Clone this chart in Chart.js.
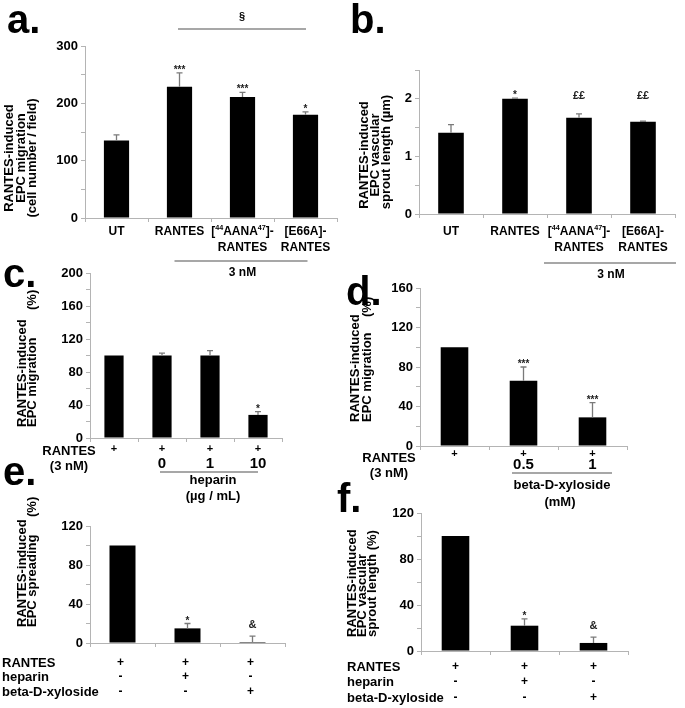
<!DOCTYPE html>
<html>
<head>
<meta charset="utf-8">
<script src="https://cdn.jsdelivr.net/npm/chart.js@4.4.1/dist/chart.umd.min.js"></script>
<style>
  html, body { margin: 0; padding: 0; background: #fff; }
  #page { position: relative; width: 685px; height: 708px; overflow: hidden; }
  #page canvas { position: absolute; left: 0; top: 0; }
</style>
</head>
<body>
<div id="page"></div>
<script>
// a. EPC migration (cell number / field)
const aCategories = ['UT', 'RANTES', '[^44^AANA^47^]-', '[E66A]-'];
const aSecondLine = ['', '', 'RANTES', 'RANTES'];
const aValues = [135, 229, 211, 180];
const aErrors = [10, 24, 8, 5];
const aStars = ['', '***', '***', '*'];

// b. EPC vascular sprout length (µm)
const bCategories = ['UT', 'RANTES', '[^44^AANA^47^]-', '[E66A]-'];
const bSecondLine = ['', '', 'RANTES', 'RANTES'];
const bValues = [1.41, 2.0, 1.67, 1.6];
const bErrors = [0.14, 0.01, 0.07, 0.01];
const bStars = ['', '*', '££', '££'];

// c. heparin dose (µg / mL)
const cCategories = ['0', '0', '1', '10'];
const cRantes = ['+', '+', '+', '+'];
const cDoses = ['', '0', '1', '10'];
const cValues = [100, 100, 100, 28];
const cErrors = [0, 3, 6, 4];
const cStars = ['', '', '', '*'];

// d. beta-D-xyloside dose (mM)
const dCategories = ['0', '0.5', '1'];
const dRantes = ['+', '+', '+'];
const dDoses = ['', '0.5', '1'];
const dValues = [100, 66, 29];
const dErrors = [0, 14, 15];
const dStars = ['', '***', '***'];

// e. / f. treatment rows
const rowLabels = ['RANTES', 'heparin', 'beta-D-xyloside'];
const rowMarks = [['+', '+', '+'], ['-', '+', '-'], ['-', '-', '+']];
const eValues = [100, 15, 1];
const eErrors = [0, 5, 6];
const eStars = ['', '*', '&'];
const fValues = [100, 22, 7];
const fErrors = [0, 6, 5];
const fStars = ['', '*', '&'];

const FONT = '"Liberation Sans", Arial, Helvetica, sans-serif';
const AXIS = '#b4b4b4';
const W = 685, H = 708;

function isMajor(v, major) {
    return Math.abs(v / major - Math.round(v / major)) < 1e-6;
}

function txt(ctx, s, x, y, size, align) {
    ctx.font = 'bold ' + size + 'px ' + FONT;
    ctx.textAlign = align || 'center';
    ctx.textBaseline = 'middle';
    ctx.fillText(s, x, y);
}

// texte avec exposants marqués par ^...^
function rich(ctx, s, x, y, size) {
    const parts = s.split('^');
    let total = 0;
    parts.forEach((p, i) => {
        ctx.font = 'bold ' + (i % 2 ? size * 0.6 : size) + 'px ' + FONT;
        total += ctx.measureText(p).width;
    });
    let cx = x - total / 2;
    ctx.textAlign = 'left';
    ctx.textBaseline = 'middle';
    parts.forEach((p, i) => {
        const sz = i % 2 ? size * 0.6 : size;
        ctx.font = 'bold ' + sz + 'px ' + FONT;
        ctx.fillText(p, cx, i % 2 ? y - size * 0.3 : y);
        cx += ctx.measureText(p).width;
    });
}

function vtxt(ctx, s, x, y, size, align) {
    ctx.save();
    ctx.translate(x, y);
    ctx.rotate(-Math.PI / 2);
    txt(ctx, s, 0, 0, size, align);
    ctx.restore();
}

function hline(ctx, x1, x2, y) {
    ctx.save();
    ctx.strokeStyle = '#8a8a8a';
    ctx.lineWidth = 1.5;
    ctx.beginPath();
    ctx.moveTo(x1, y);
    ctx.lineTo(x2, y);
    ctx.stroke();
    ctx.restore();
}

function letter(ctx, s, x, y) {
    ctx.font = 'bold 40px ' + FONT;
    ctx.textAlign = 'left';
    ctx.textBaseline = 'alphabetic';
    ctx.fillText(s, x, y);
}

function drawErrors(chart, p) {
    const ctx = chart.ctx, xs = chart.scales.x, ys = chart.scales.y;
    ctx.save();
    p.values.forEach((v, i) => {
        const e = p.errors[i];
        const cx = xs.getPixelForValue(i);
        const y0 = ys.getPixelForValue(v), y1 = ys.getPixelForValue(v + e);
        if (e > 0) {
            ctx.strokeStyle = '#7a7a7a';
            ctx.lineWidth = 1.3;
            ctx.beginPath();
            ctx.moveTo(cx, y0);
            ctx.lineTo(cx, y1);
            ctx.moveTo(cx - 3, y1);
            ctx.lineTo(cx + 3, y1);
            ctx.stroke();
        }
        const s = p.stars[i];
        if (!s) return;
        let top = y1;
        if (p.starLevel !== undefined) top = Math.min(top, ys.getPixelForValue(p.starLevel));
        ctx.fillStyle = '#222';
        ctx.textAlign = 'center';
        ctx.textBaseline = 'alphabetic';
        if (s.indexOf('*') >= 0) {
            ctx.font = 'bold 10px ' + FONT;
            ctx.fillText(s, cx, top);
        } else {
            ctx.font = 'bold 11px ' + FONT;
            ctx.fillText(s, cx, top - 8);
        }
    });
    ctx.restore();
}

function makePanel(p) {
    const canvas = document.createElement('canvas');
    canvas.width = W;
    canvas.height = H;
    document.getElementById('page').appendChild(canvas);
    const extra = {
        id: 'extra',
        afterDatasetsDraw(chart) { drawErrors(chart, p); },
        afterDraw(chart) {
            const ctx = chart.ctx;
            ctx.save();
            ctx.fillStyle = '#000';
            p.draw(ctx, i => chart.scales.x.getPixelForValue(i));
            ctx.restore();
        }
    };
    return new Chart(canvas, {
        type: 'bar',
        data: {
            labels: p.categories,
            datasets: [{
                data: p.values,
                backgroundColor: '#000',
                borderWidth: 0,
                barPercentage: 0.4,
                categoryPercentage: 1
            }]
        },
        options: {
            responsive: false,
            animation: false,
            events: [],
            layout: { padding: { left: p.area[0] - 40, right: W - p.area[1], top: p.area[2], bottom: H - p.area[3] - 6 } },
            plugins: { legend: { display: false }, tooltip: { enabled: false } },
            scales: {
                x: {
                    offset: true,
                    grid: { offset: true, drawOnChartArea: false, tickLength: 4, color: AXIS },
                    border: { color: AXIS },
                    ticks: { display: false },
                    afterFit(s) { s.height = 6; }
                },
                y: {
                    min: 0,
                    max: p.max,
                    ticks: {
                        stepSize: p.step,
                        autoSkip: false,
                        padding: 3,
                        color: '#000',
                        font: { family: FONT, size: 13, weight: 'bold' },
                        callback: v => isMajor(v, p.major) ? v : ''
                    },
                    grid: { drawOnChartArea: false, tickLength: 4, color: AXIS },
                    border: { color: AXIS },
                    afterFit(s) { s.width = 40; }
                }
            }
        },
        plugins: [extra]
    });
}

// a.
makePanel({
    categories: aCategories, values: aValues, errors: aErrors, stars: aStars,
    area: [85, 337, 46, 218], max: 300, step: 50, major: 100,
    draw(ctx, px) {
        letter(ctx, 'a.', 7, 33);
        vtxt(ctx, 'RANTES-induced', 9, 158, 13);
        vtxt(ctx, 'EPC migration', 21, 158, 13);
        vtxt(ctx, '(cell number / field)', 32, 158, 13);
        aCategories.forEach((c, i) => rich(ctx, c, px(i), 232, 12));
        aSecondLine.forEach((c, i) => { if (c) txt(ctx, c, px(i), 248, 12); });
        hline(ctx, px(1) - 5, px(3) + 2, 261);
        txt(ctx, '3 nM', px(2), 273, 12);
        hline(ctx, 178, 306, 29);
        txt(ctx, '§', 242, 17, 11);
    }
});

// b.
makePanel({
    categories: bCategories, values: bValues, errors: bErrors, stars: bStars, starLevel: 1.85,
    area: [419, 675, 70, 214], max: 2.5, step: 0.5, major: 1,
    draw(ctx, px) {
        letter(ctx, 'b.', 350, 33);
        vtxt(ctx, 'RANTES-induced', 364, 155, 13);
        vtxt(ctx, 'EPC vascular', 375, 155, 13);
        vtxt(ctx, 'sprout length (µm)', 386, 152, 13);
        bCategories.forEach((c, i) => rich(ctx, c, px(i), 232, 12));
        bSecondLine.forEach((c, i) => { if (c) txt(ctx, c, px(i), 248, 12); });
        hline(ctx, px(2) - 35, px(3) + 33, 263);
        txt(ctx, '3 nM', (px(2) + px(3)) / 2, 275, 12);
    }
});

// c.
makePanel({
    categories: cCategories, values: cValues, errors: cErrors, stars: cStars,
    area: [90, 282, 273, 438], max: 200, step: 20, major: 40,
    draw(ctx, px) {
        letter(ctx, 'c.', 3, 287);
        vtxt(ctx, 'RANTES-induced', 22, 427, 13, 'left');
        vtxt(ctx, 'EPC migration', 32, 427, 13, 'left');
        vtxt(ctx, '(%)', 32, 310, 13, 'left');
        txt(ctx, 'RANTES', 69, 451, 13);
        txt(ctx, '(3 nM)', 69, 466, 13);
        cRantes.forEach((m, i) => txt(ctx, m, px(i), 449, 11));
        cDoses.forEach((d, i) => { if (d) txt(ctx, d, px(i), 464, 15); });
        hline(ctx, px(1) - 2, px(3), 472);
        txt(ctx, 'heparin', 213, 480, 13);
        txt(ctx, '(µg / mL)', 213, 496, 13);
    }
});

// d.
makePanel({
    categories: dCategories, values: dValues, errors: dErrors, stars: dStars,
    area: [420, 627, 288, 446], max: 160, step: 20, major: 40,
    draw(ctx, px) {
        letter(ctx, 'd.', 346, 305);
        vtxt(ctx, 'RANTES-induced', 355, 422, 13, 'left');
        vtxt(ctx, 'EPC migration', 367, 422, 13, 'left');
        vtxt(ctx, '(%)', 367, 317, 13, 'left');
        txt(ctx, 'RANTES', 389, 458, 13);
        txt(ctx, '(3 nM)', 389, 473, 13);
        dRantes.forEach((m, i) => txt(ctx, m, px(i), 454, 11));
        dDoses.forEach((d, i) => { if (d) txt(ctx, d, px(i), 465, 15); });
        hline(ctx, 512, 612, 473);
        txt(ctx, 'beta-D-xyloside', 562, 485, 13);
        txt(ctx, '(mM)', 560, 502, 13);
    }
});

// e.
makePanel({
    categories: rowMarks[0], values: eValues, errors: eErrors, stars: eStars,
    area: [90, 285, 526, 643], max: 120, step: 20, major: 40,
    draw(ctx, px) {
        letter(ctx, 'e.', 3, 485);
        vtxt(ctx, 'RANTES-induced', 22, 627, 13, 'left');
        vtxt(ctx, 'EPC spreading', 32, 627, 13, 'left');
        vtxt(ctx, '(%)', 32, 517, 13, 'left');
        const rowsY = [663, 677, 692];
        rowLabels.forEach((r, k) => {
            txt(ctx, r, 2, rowsY[k], 13, 'left');
            rowMarks[k].forEach((m, i) => txt(ctx, m, px(i) - 2, rowsY[k], 12));
        });
    }
});

// f.
makePanel({
    categories: rowMarks[0], values: fValues, errors: fErrors, stars: fStars,
    area: [421, 628, 513, 651], max: 120, step: 20, major: 40,
    draw(ctx, px) {
        letter(ctx, 'f.', 337, 512);
        vtxt(ctx, 'RANTES-induced', 352, 637, 13, 'left');
        vtxt(ctx, 'EPC vascular', 362, 637, 13, 'left');
        vtxt(ctx, 'sprout length (%)', 372, 637, 13, 'left');
        const rowsY = [667, 682, 698];
        rowLabels.forEach((r, k) => {
            txt(ctx, r, 347, rowsY[k], 13, 'left');
            rowMarks[k].forEach((m, i) => txt(ctx, m, px(i), rowsY[k], 12));
        });
    }
});
</script>
</body>
</html>
